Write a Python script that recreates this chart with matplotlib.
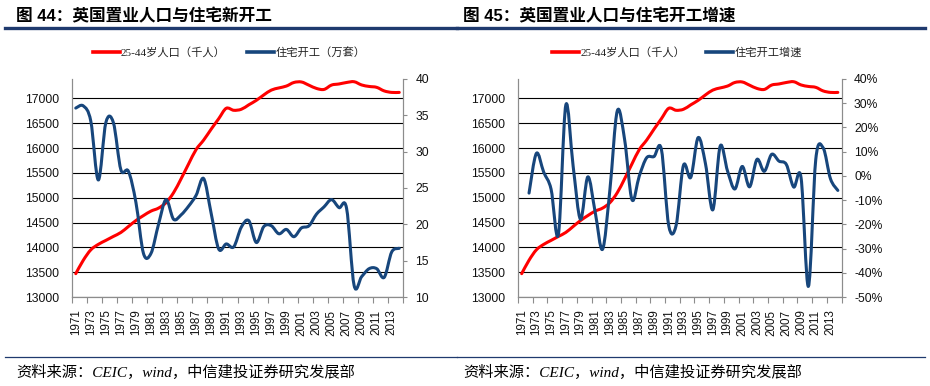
import numpy as np
import matplotlib
matplotlib.use("Agg")
import matplotlib.pyplot as plt
from matplotlib.path import Path
from matplotlib.patches import PathPatch
from matplotlib.lines import Line2D
from matplotlib.ticker import FixedLocator, FuncFormatter

# ---------------- data ----------------
years = list(range(1971, 2015))
pop_25_44 = [13470, 13740, 13950, 14060, 14140, 14220, 14300, 14420, 14540, 14640,
             14730, 14790, 14900, 15100, 15380, 15680, 15970, 16160, 16380, 16590,
             16800, 16760, 16780, 16870, 16960, 17070, 17167, 17210, 17248, 17320,
             17330, 17265, 17200, 17180, 17268, 17290, 17320, 17335, 17270, 17240,
             17222, 17150, 17120, 17120]
starts = [36.0, 36.3, 34.2, 26.1, 34.0, 34.0, 27.5, 27.3, 23.0, 16.0,
          16.0, 20.0, 23.4, 20.7, 21.3, 22.5, 24.0, 26.3, 21.5, 16.6,
          17.3, 16.9, 19.6, 20.5, 17.5, 19.7, 19.8, 18.7, 19.3, 18.3,
          19.5, 19.8, 21.4, 22.4, 23.4, 22.3, 22.2, 11.6, 12.8, 13.9,
          13.9, 12.7, 16.2, 16.7]
growth_years = list(range(1972, 2015))
growth = [-7.1, 9.3, 1.5, -5.5, -24.0, 29.2, 4.0, -17.9, -0.4, -15.0,
          -30.3, -5.7, 26.8, 15.0, -9.8, 0.0, 7.5, 8.0, 11.0, -20.5,
          -20.5, 4.3, -0.6, 15.8, 5.0, -14.0, 12.3, 2.0, -5.4, 3.9,
          -4.5, 6.8, 1.9, 8.9, 6.1, 4.7, -4.6, -0.8, -45.6, 6.8,
          11.6, -1.2, -6.0]

left_ticks = [13000, 13500, 14000, 14500, 15000, 15500, 16000, 16500, 17000]
starts_ticks = [10, 15, 20, 25, 30, 35, 40]
growth_ticks = [-50, -40, -30, -20, -10, 0, 10, 20, 30, 40]

title_left = "图 44：英国置业人口与住宅新开工"
title_right = "图 45：英国置业人口与住宅开工增速"
legend_pop = "25-44岁人口（千人）"
legend_starts = "住宅开工（万套）"
legend_growth = "住宅开工增速"
source_text = "资料来源：CEIC，wind，中信建投证券研究发展部"

# ---------------- style ----------------
RED = "#FF0000"
BLUE = "#17467C"
NAVY = "#1F3A6E"
SPINE = "#8C8C8C"
CJK = "Noto Sans CJK SC"
plt.rcParams["font.family"] = ["Liberation Sans", CJK]

W, H = 930, 386
fig = plt.figure(figsize=(W / 100, H / 100), dpi=100)


def smooth_path(xs, ys):
    pts = np.column_stack([np.asarray(xs, float), np.asarray(ys, float)])
    n = len(pts)
    verts = [pts[0]]
    codes = [Path.MOVETO]
    for i in range(n - 1):
        p0 = pts[i - 1] if i > 0 else pts[i]
        p1 = pts[i]
        p2 = pts[i + 1]
        p3 = pts[i + 2] if i + 2 < n else pts[i + 1]
        verts += [p1 + (p2 - p0) / 6.0, p2 - (p3 - p1) / 6.0, p2]
        codes += [Path.CURVE4] * 3
    return Path(verts, codes)


def px_rect(x0, y0, x1, y1):
    return [x0 / W, 1 - y1 / H, (x1 - x0) / W, (y1 - y0) / H]


def setup_axes(rect, right_ticks, right_lim, right_fmt):
    ax = fig.add_axes(rect)
    ax2 = ax.twinx()
    n = len(years)
    ax.set_xlim(-0.5, n - 0.5)
    ax.set_ylim(13000, 17390)
    ax2.set_ylim(*right_lim)
    ax.yaxis.set_major_locator(FixedLocator(left_ticks))
    ax.yaxis.set_major_formatter(FuncFormatter(lambda v, p: f"{int(v)}"))
    ax.grid(axis="y", color="black", lw=0.8)
    ax.set_axisbelow(True)
    ax.tick_params(axis="y", length=0, pad=9, labelsize=8.7, labelcolor="#111111")
    # x axis: labels every 2 years, tick marks at category boundaries
    ax.xaxis.set_major_locator(FixedLocator(list(range(0, n, 2))))
    ax.set_xticklabels([str(years[i]) for i in range(0, n, 2)], rotation=90,
                       fontsize=8.4, color="#111111")
    ax.xaxis.set_minor_locator(FixedLocator([i - 0.5 for i in range(0, n + 1, 2)]))
    ax.tick_params(axis="x", which="major", length=0, pad=9)
    ax.tick_params(axis="x", which="minor", length=4, color=SPINE, width=0.8)
    for s in ["top"]:
        ax.spines[s].set_visible(False)
        ax2.spines[s].set_visible(False)
    for s in ["left", "bottom", "right"]:
        ax.spines[s].set_color(SPINE)
        ax2.spines[s].set_color(SPINE)
    ax2.yaxis.set_major_locator(FixedLocator(right_ticks))
    ax2.yaxis.set_major_formatter(FuncFormatter(right_fmt))
    ax2.tick_params(axis="y", length=3, color=SPINE, pad=6, labelsize=8.7,
                    labelcolor="#111111")
    return ax, ax2


# ---------------- left chart ----------------
axL, axL2 = setup_axes(px_rect(72, 79, 403, 297), starts_ticks, (10, 40),
                       lambda v, p: f"{int(v)}")
axL.add_patch(PathPatch(smooth_path(range(len(years)), pop_25_44), fill=False,
                        edgecolor=RED, lw=2.2, capstyle="round", joinstyle="round"))
axL2.add_patch(PathPatch(smooth_path(range(len(years)), starts), fill=False,
                         edgecolor=BLUE, lw=2.2, capstyle="round", joinstyle="round"))

# ---------------- right chart ----------------
axR, axR2 = setup_axes(px_rect(518, 79, 841.5, 297), growth_ticks, (-50, 40),
                       lambda v, p: f"{int(v)}%")
axR.add_patch(PathPatch(smooth_path(range(len(years)), pop_25_44), fill=False,
                        edgecolor=RED, lw=2.2, capstyle="round", joinstyle="round"))
gx = [years.index(y) for y in growth_years]
axR2.add_patch(PathPatch(smooth_path(gx, growth), fill=False,
                         edgecolor=BLUE, lw=2.2, capstyle="round", joinstyle="round"))

# ---------------- legends ----------------
leg_font = dict(family=["Liberation Serif", CJK], size=8.1)


def add_legend(x_center, labels):
    handles = [Line2D([], [], color=RED, lw=2.6),
               Line2D([], [], color=BLUE, lw=2.6)]
    leg = fig.legend(handles, labels, loc="center",
                     bbox_to_anchor=(x_center / W, 1 - 52.5 / H), ncol=2,
                     frameon=False, prop=leg_font, handlelength=2.4,
                     handletextpad=0.1, columnspacing=1.9, borderpad=0)
    for t in leg.get_texts():
        t.set_color("#222222")


add_legend(229, [legend_pop, legend_starts])
add_legend(677, [legend_pop, legend_growth])

# ---------------- titles, rules, footers ----------------
title_font = dict(family=["Liberation Sans", CJK], size=12, weight="bold")
fig.text(16 / W, 1 - 16 / H, title_left, ha="left", va="center", color="black",
         **title_font)
fig.text(463 / W, 1 - 16 / H, title_right, ha="left", va="center", color="black",
         **title_font)
fig.add_artist(Line2D([5 / W, 457 / W], [1 - 27.8 / H] * 2, color=NAVY, lw=2.4))
fig.add_artist(Line2D([457 / W, 925 / W], [1 - 27.8 / H] * 2, color=NAVY, lw=2.4))
fig.add_artist(Line2D([5 / W, 457 / W], [1 - 356.7 / H] * 2, color=NAVY, lw=0.9))
fig.add_artist(Line2D([457 / W, 925 / W], [1 - 356.7 / H] * 2, color=NAVY, lw=0.9))

foot_font = dict(family=["Liberation Serif", CJK], size=11, style="italic")
fig.text(16 / W, 1 - 372 / H, source_text, ha="left", va="center", color="black",
         **foot_font)
fig.text(463 / W, 1 - 372 / H, source_text, ha="left", va="center", color="black",
         **foot_font)

fig.savefig("out.png", dpi=100)
